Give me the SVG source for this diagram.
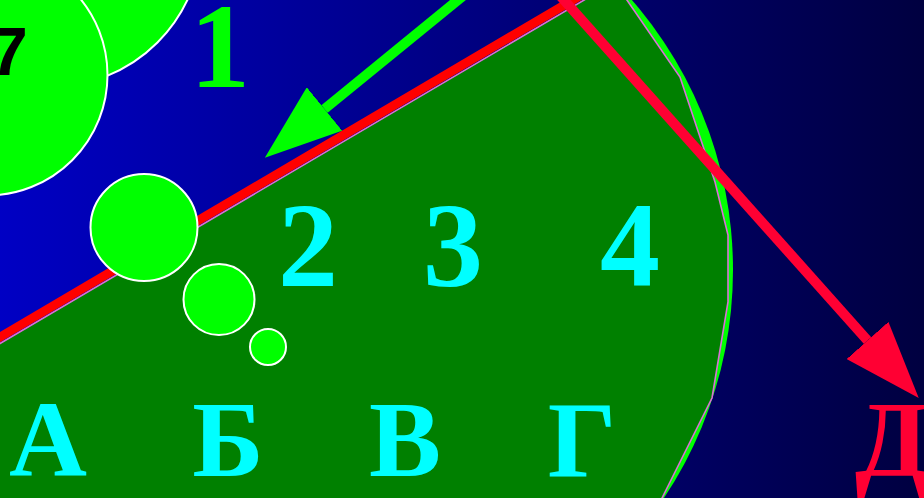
<svg xmlns="http://www.w3.org/2000/svg" width="924" height="498" viewBox="0 0 924 498">
<defs>
<linearGradient id="bg" x1="0" y1="0" x2="1" y2="0">
<stop offset="0" stop-color="#0000c4"/>
<stop offset="1" stop-color="#000040"/>
</linearGradient>
<clipPath id="below"><polygon points="-20,355.3 605,-12.2 940,-12.2 940,520 -20,520"/></clipPath>
<marker id="ahG" markerUnits="userSpaceOnUse" viewBox="0 -28 77 56" markerWidth="77" markerHeight="56" refX="0" refY="0" orient="auto"><path d="M0,-28 L77,0 L0,28 Z" fill="#00ff00"/></marker>
<marker id="ahR" markerUnits="userSpaceOnUse" viewBox="0 -28 77 56" markerWidth="77" markerHeight="56" refX="0" refY="0" orient="auto"><path d="M0,-28 L77,0 L0,28 Z" fill="#ff0033"/></marker>
</defs>
<style>
.circ{fill:#00ff00;stroke:#ffffff;stroke-width:2}
.serif{font-family:"Liberation Serif","Times New Roman",serif;font-weight:bold;text-anchor:middle}
.num{font-size:120px}
.let{font-size:108px}
.cyan{fill:#00ffff}
.arrow{fill:none;stroke-width:10;stroke-linecap:butt}
</style>
<rect x="0" y="0" width="924" height="498" fill="url(#bg)"/>
<g id="region">
<circle cx="322" cy="270" r="411" fill="#00ff00" clip-path="url(#below)"/>
<polygon points="-10,349.4 600,-9.3 620,-10 680,77 715,182 728,235 728,302 712,398 662,498 651,520 -10,520" fill="#008000" stroke="#da70d6" stroke-width="1.6"/>
<line x1="-10" y1="343" x2="590" y2="-10" stroke="#ff0000" stroke-width="9"/>
</g>
<g id="bubble-top"><circle class="circ" cx="50" cy="-65" r="152"/></g>
<g id="bubble-big"><circle class="circ" cx="-13" cy="75" r="120.5"/>
<text x="-10" y="75" font-family="Liberation Sans, Arial, sans-serif" font-weight="bold" font-size="68" fill="#000000">7</text></g>
<g id="bubble-1"><circle class="circ" cx="144" cy="227.5" r="53.5"/></g>
<g id="bubble-2"><circle class="circ" cx="219" cy="299.5" r="35.5"/></g>
<g id="bubble-3"><circle class="circ" cx="268" cy="347" r="18"/></g>
<g id="labels">
<text class="serif num" x="220" y="87" fill="#00ff00">1</text>
<text class="serif num cyan" x="308" y="286">2</text>
<text class="serif num cyan" x="453" y="286">3</text>
<text class="serif num cyan" x="630" y="286">4</text>
<text class="serif let cyan" x="48" y="476">А</text>
<text class="serif let cyan" x="228" y="476">Б</text>
<text class="serif let cyan" x="405" y="476">В</text>
<text class="serif let cyan" x="582" y="476">Г</text>
<text class="serif let" x="855" y="476" fill="#ff0033" style="text-anchor:start">Д</text>
</g>
<g id="connectors">
<line class="arrow" x1="469" y1="-9" x2="324.5" y2="109" stroke="#00ff00" marker-end="url(#ahG)"/>
<line class="arrow" x1="555" y1="-10" x2="867.5" y2="340.5" stroke="#ff0033" marker-end="url(#ahR)"/>
</g>
</svg>
